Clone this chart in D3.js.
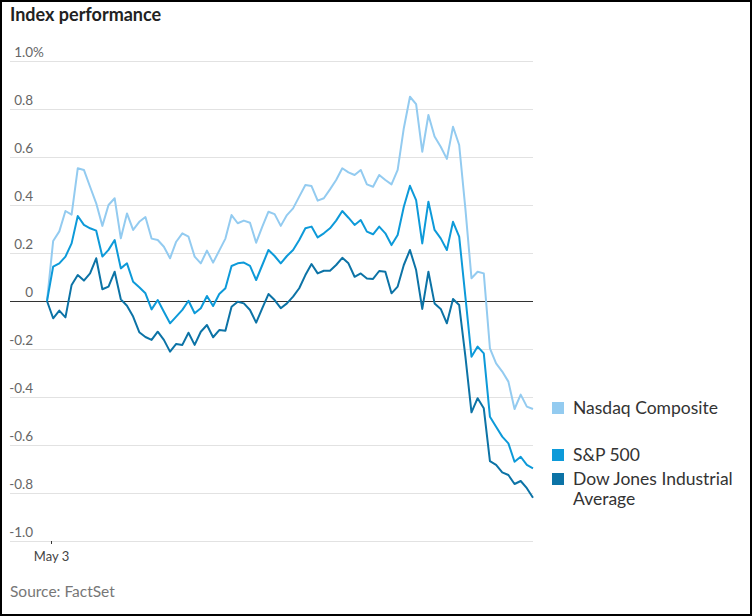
<!DOCTYPE html>
<html><head><meta charset="utf-8">
<script src="https://cdn.jsdelivr.net/npm/d3@7"></script>
<style>body{margin:0;background:#fff}svg{display:block}text{font-family:Lato,'Noto Sans',sans-serif}</style>
</head><body>
<svg id="c" width="752" height="616"></svg>
<script>
// ---- data ----
const seriesNames = ["Nasdaq Composite", "S&P 500", "Dow Jones Industrial Average"];
const seriesColors = ["#93cbf0", "#0d9ad9", "#0c73a6"];
const nasdaq = [0,0.25,0.29,0.375,0.36,0.553,0.546,0.476,0.407,0.313,0.40,0.428,0.261,0.365,0.296,0.33,0.35,0.26,0.254,0.226,0.178,0.247,0.282,0.268,0.185,0.157,0.21,0.16,0.21,0.26,0.358,0.324,0.335,0.326,0.243,0.31,0.372,0.362,0.313,0.358,0.386,0.435,0.483,0.479,0.418,0.428,0.465,0.504,0.553,0.536,0.525,0.546,0.486,0.476,0.525,0.504,0.486,0.546,0.72,0.851,0.82,0.622,0.775,0.685,0.643,0.592,0.726,0.65,0.387,0.095,0.122,0.115,-0.197,-0.26,-0.294,-0.336,-0.45,-0.39,-0.44,-0.45];
const sp500 = [0,0.143,0.157,0.185,0.24,0.354,0.317,0.303,0.293,0.185,0.213,0.254,0.136,0.157,0.08,0.057,0.032,-0.035,0.004,-0.045,-0.093,-0.065,-0.037,0.001,-0.051,-0.03,0.021,-0.021,0.029,0.053,0.146,0.157,0.16,0.146,0.0875,0.15,0.2125,0.1875,0.157,0.1875,0.2125,0.254,0.303,0.31,0.265,0.282,0.303,0.335,0.375,0.347,0.317,0.3375,0.289,0.278,0.31,0.282,0.233,0.275,0.393,0.48,0.42,0.24,0.414,0.296,0.261,0.2125,0.33,0.268,0.02,-0.232,-0.19,-0.218,-0.482,-0.524,-0.565,-0.593,-0.67,-0.649,-0.683,-0.697];
const djia = [0,-0.072,-0.04,-0.068,0.067,0.108,0.085,0.115,0.178,0.049,0.06,0.122,0.007,-0.02,-0.065,-0.13,-0.15,-0.162,-0.128,-0.162,-0.211,-0.179,-0.183,-0.132,-0.183,-0.128,-0.1,-0.151,-0.121,-0.124,-0.024,-0.003,-0.01,-0.0375,-0.09,-0.03,0.029,0.004,-0.03,-0.01,0.018,0.053,0.108,0.154,0.115,0.126,0.126,0.15,0.18,0.157,0.101,0.115,0.094,0.092,0.125,0.122,0.032,0.06,0.15,0.2125,0.129,-0.033,0.122,-0.01,-0.033,-0.093,0.008,-0.017,-0.229,-0.464,-0.405,-0.447,-0.667,-0.683,-0.714,-0.725,-0.7625,-0.75,-0.78,-0.82];
const yTicks = [1.0,0.8,0.6,0.4,0.2,0,-0.2,-0.4,-0.6,-0.8,-1.0];
const yTickLabels = ["1.0","0.8","0.6","0.4","0.2","0","-0.2","-0.4","-0.6","-0.8","-1.0"];
const xTickValues = [0.65];
const xTickLabels = ["May 3"];
const title = "Index performance";
const source = "Source: FactSet";

// ---- chart ----
const svg = d3.select("#c");
svg.append("rect").attr("x",1).attr("y",1).attr("width",750).attr("height",614)
  .attr("fill","#fff").attr("stroke","#000").attr("stroke-width",2);

const x = d3.scaleLinear().domain([0, nasdaq.length-1]).range([47,533]);
const y = d3.scaleLinear().domain([-1,1]).range([541,61]);

svg.append("text").attr("x",10).attr("y",21).text(title)
  .attr("font-size","18px").attr("font-weight",700).attr("fill","#222");

const grid = svg.append("g");
yTicks.forEach((v,i)=>{
  if (v!==0) grid.append("line").attr("x1",10).attr("x2",533).attr("y1",y(v)).attr("y2",y(v))
    .attr("stroke","#e2e2e2").attr("stroke-width",1).attr("shape-rendering","crispEdges");
  grid.append("text").attr("x",33).attr("y",y(v)-4).attr("text-anchor","end")
    .attr("font-size","13.5px").attr("fill","#666").text(yTickLabels[i]);
  if (i===0) grid.append("text").attr("x",33).attr("y",y(v)-4)
    .attr("font-size","13.5px").attr("fill","#666").text("%");
});

const xAxis = svg.append("g").attr("transform",`translate(0,${y(-1)})`)
  .call(d3.axisBottom(x).tickValues(xTickValues).tickFormat((d,i)=>xTickLabels[i]).tickSize(3).tickPadding(8));
xAxis.select(".domain").remove();
xAxis.selectAll("line").attr("stroke","#333");
xAxis.selectAll("text").attr("font-size","13px").attr("fill","#444").attr("font-family","Lato,'Noto Sans',sans-serif");

const line = d3.line().x((d,i)=>x(i)).y(d=>y(d));
svg.append("line").attr("x1",10).attr("x2",533).attr("y1",y(0)).attr("y2",y(0))
  .attr("stroke","#333").attr("stroke-width",1).attr("shape-rendering","crispEdges");
[nasdaq, sp500, djia].forEach((s,k)=>{
  svg.append("path").datum(s).attr("d",line).attr("fill","none")
    .attr("stroke",seriesColors[k]).attr("stroke-width",2).attr("stroke-linejoin","round");
});

// legend
const legendY = [402, 449, 473];
const leg = svg.append("g");
seriesNames.forEach((n,k)=>{
  leg.append("rect").attr("x",552).attr("y",legendY[k]).attr("width",12).attr("height",12).attr("fill",seriesColors[k]);
  const t = leg.append("text").attr("x",573).attr("y",legendY[k]+11.5).attr("font-size","17.5px").attr("fill","#333");
  if (k===2) {
    t.append("tspan").attr("x",573).text("Dow Jones Industrial");
    t.append("tspan").attr("x",573).attr("dy",20).text("Average");
  } else t.text(n);
});

svg.append("text").attr("x",10).attr("y",597).text(source)
  .attr("font-size","15.5px").attr("fill","#777");
</script>
</body></html>
